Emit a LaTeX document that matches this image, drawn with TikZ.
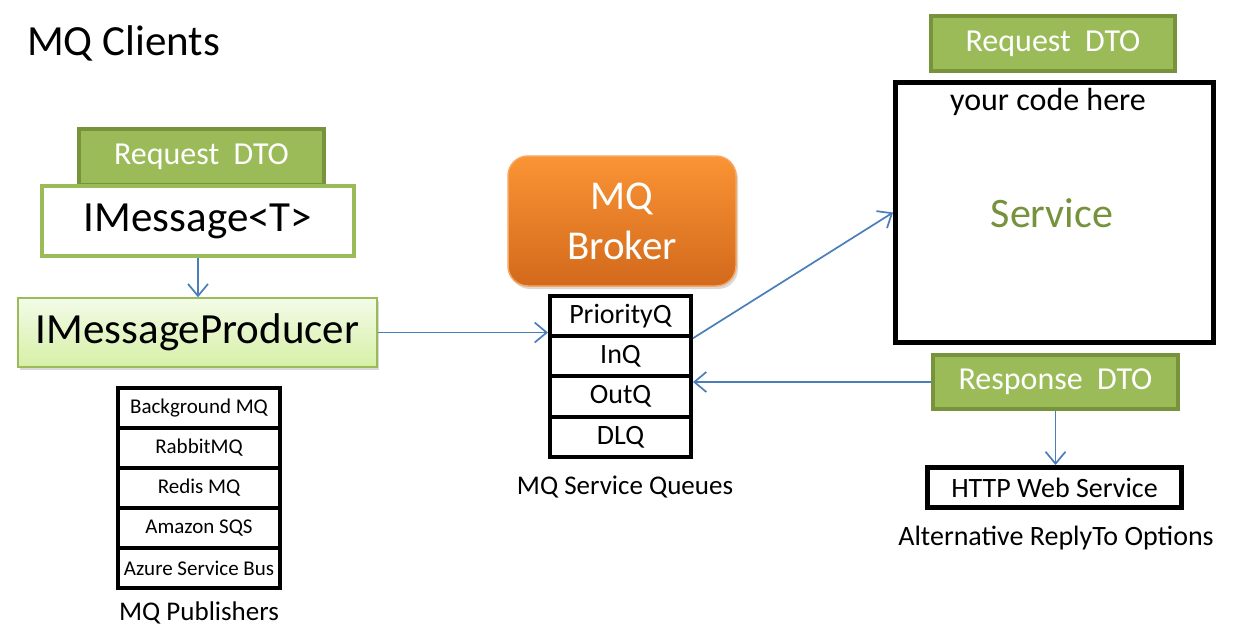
\documentclass[tikz,border=0pt]{standalone}
\usepackage{fontspec}
\setmainfont{Carlito}
\usetikzlibrary{arrows.meta,shadows}
\definecolor{dtofill}{HTML}{9BBB59}
\definecolor{dtoborder}{HTML}{77933C}
\definecolor{arrowblue}{HTML}{4A7EBB}
\definecolor{svcgreen}{HTML}{76923C}
\definecolor{prodtop}{HTML}{F3FBE8}
\definecolor{prodbot}{HTML}{D6F0A6}
\definecolor{brokertop}{HTML}{FA9434}
\definecolor{brokerbot}{HTML}{D2691C}
\definecolor{brokerborder}{HTML}{F5A660}
\tikzset{
  fs/.style={font=\fontsize{#1}{#1}\selectfont},
  dtobox/.style={draw=dtoborder, fill=dtofill, line width=4pt, text=white, fs=32, inner sep=0pt},
  stackrow/.style={draw=black, fill=white, line width=4pt, inner sep=0pt},
  conn/.style={draw=arrowblue, line width=1.7pt, -{Straight Barb[length=12pt,width=20pt,line width=1.7pt]}},
  caption/.style={inner sep=0pt, fs=27}
}
\begin{document}
\begin{tikzpicture}[x=1pt,y=-1pt]
\useasboundingbox (0,0) rectangle (1233,635);

% title
\node[anchor=west, inner sep=0pt, fs=43] (title) at (27,43) {MQ Clients};

% left: request DTO, IMessage, producer
\node[dtobox, minimum width=245pt, minimum height=56pt] (reqL) at (201.5,157) {Request\hspace{0.45em}DTO};
\node[draw=dtofill, fill=white, line width=4pt, minimum width=312pt, minimum height=70pt, inner sep=0pt, fs=43] (imsg) at (198,221) {IMessage<T>};
\node[draw=dtofill, line width=1.5pt, top color=prodtop, bottom color=prodbot,
      minimum width=359pt, minimum height=69pt, inner sep=0pt, fs=43,
      drop shadow={shadow xshift=2pt, shadow yshift=-3pt, opacity=0.3}] (prod) at (197.5,332.5) {IMessageProducer};

% publishers stack
\node[stackrow, minimum width=162pt, minimum height=40pt, fs=21] (p1) at (199,408) {Background MQ};
\node[stackrow, minimum width=162pt, minimum height=40pt, fs=21] (p2) at (199,448) {RabbitMQ};
\node[stackrow, minimum width=162pt, minimum height=40pt, fs=21] (p3) at (199,488) {Redis MQ};
\node[stackrow, minimum width=162pt, minimum height=40pt, fs=21] (p4) at (199,528) {Amazon SQS};
\node[stackrow, minimum width=162pt, minimum height=40pt, fs=21] (p5) at (199,568) {Azure Service Bus};
\node[caption] (pubcap) at (199,613) {MQ Publishers};

% broker
\node[draw=brokerborder, line width=1.5pt, top color=brokertop, bottom color=brokerbot,
      rounded corners=20pt, minimum width=228pt, minimum height=130pt, inner sep=0pt,
      text=white, align=center, font=\fontsize{41}{50}\selectfont,
      drop shadow={shadow xshift=2pt, shadow yshift=-3pt, opacity=0.3}] (broker) at (622,221) {MQ\\Broker};

% queue stack
\node[stackrow, minimum width=141pt, minimum height=40.25pt, fs=28] (q1) at (620.5,316.1) {PriorityQ};
\node[stackrow, minimum width=141pt, minimum height=40.25pt, fs=28] (q2) at (620.5,356.4) {InQ};
\node[stackrow, minimum width=141pt, minimum height=40.25pt, fs=28] (q3) at (620.5,396.6) {OutQ};
\node[stackrow, minimum width=141pt, minimum height=40.25pt, fs=28] (q4) at (620.5,436.9) {DLQ};
\node[caption] (qcap) at (625,487) {MQ Service Queues};

% right: service
\node[dtobox, minimum width=244pt, minimum height=55pt] (reqR) at (1053,43.5) {Request\hspace{0.45em}DTO};
\node[draw=black, fill=white, line width=5pt, minimum width=318pt, minimum height=260pt, inner sep=0pt] (svc) at (1054.5,212.5) {};
\node[inner sep=0pt, fs=32] (code) at (1048,102) {your code here};
\node[inner sep=0pt, fs=42, text=svcgreen] (svctext) at (1052,213) {Service};
\node[dtobox, minimum width=245pt, minimum height=54pt] (resp) at (1055.5,382) {Response\hspace{0.45em}DTO};
\node[draw=black, fill=white, line width=5pt, inner sep=0pt, minimum width=254pt, minimum height=40pt, fs=28] (http) at (1054.5,487.5) {HTTP Web Service};
\node[caption, fs=28] (altcap) at (1056,538) {Alternative ReplyTo Options};

% connectors
\draw[conn] (imsg.south) -- (imsg.south |- prod.north);
\draw[conn] (prod.east) -- (prod.east -| q1.west);
\draw[conn] (q1.south east) -- (svc.west);
\draw[conn] (resp.west) -- (resp.west -| q2.east);
\draw[conn] (resp.south) -- (resp.south |- http.north);
\end{tikzpicture}
\end{document}
